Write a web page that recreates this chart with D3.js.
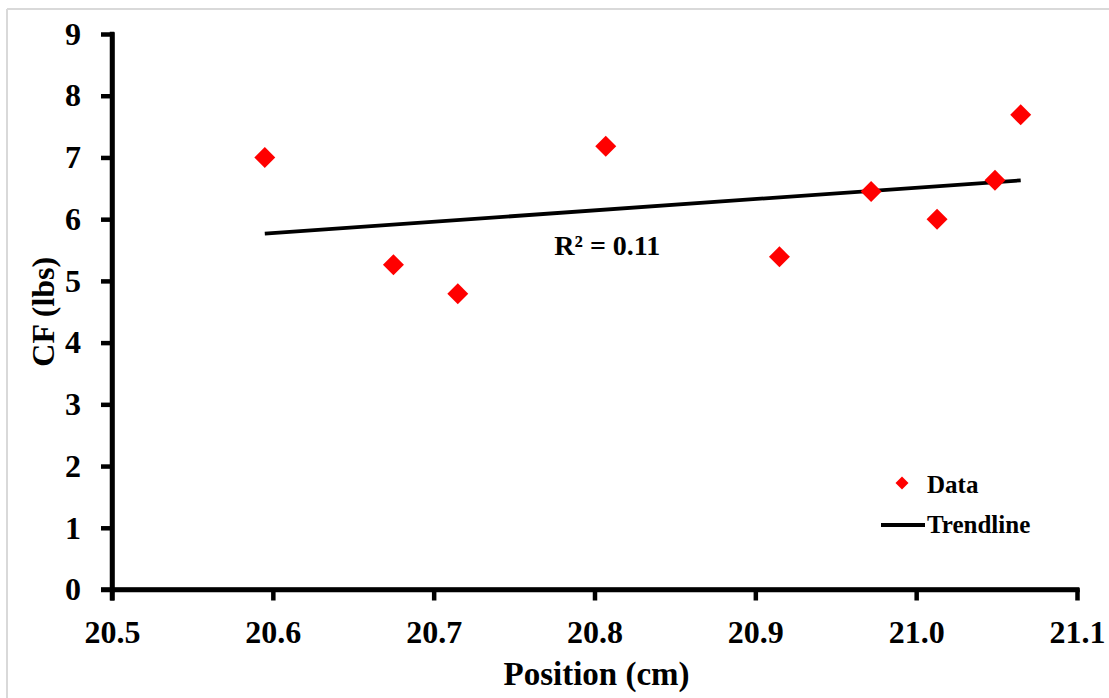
<!DOCTYPE html>
<html>
<head>
<meta charset="utf-8">
<script src="https://cdn.jsdelivr.net/npm/d3@7"></script>
<style>
  html, body { margin: 0; padding: 0; background: #fff; }
  svg { display: block; }
  text { font-family: "Liberation Serif", "Times New Roman", serif; font-weight: bold; fill: #000; }
</style>
</head>
<body>
<svg id="chart" width="1109" height="698"></svg>
<script>
// ---- data ----
const positions = [20.595, 20.675, 20.715, 20.807, 20.915, 20.972, 21.013, 21.049, 21.065];
const cfValues  = [7.00, 5.26, 4.79, 7.18, 5.39, 6.45, 6.00, 6.63, 7.69];
const xTicks = [20.5, 20.6, 20.7, 20.8, 20.9, 21.0, 21.1];
const yTicks = [0, 1, 2, 3, 4, 5, 6, 7, 8, 9];
const xTitle = "Position (cm)";
const yTitle = "CF (lbs)";
const legendLabels = ["Data", "Trendline"];
const r2Anchor = [20.775, 5.42];

const svg = d3.select("#chart");
const W = 1109, H = 698;

// frame
svg.append("line").attr("x1", 7).attr("y1", 9).attr("x2", W).attr("y2", 9)
  .attr("stroke", "#d9d9d9").attr("stroke-width", 2);
svg.append("line").attr("x1", 7).attr("y1", 9).attr("x2", 7).attr("y2", H)
  .attr("stroke", "#d9d9d9").attr("stroke-width", 2);

const x = d3.scaleLinear().domain([20.5, 21.1]).range([112, 1077]);
const y = d3.scaleLinear().domain([0, 9]).range([589.5, 34]);

// axes
const axW = 4.5;
const xAxis = svg.append("g").attr("transform", `translate(0,${y(0)})`)
  .call(d3.axisBottom(x).tickValues(xTicks).tickFormat(d3.format(".1f"))
    .tickSize(11).tickSizeOuter(0).tickPadding(20));
const yAxis = svg.append("g").attr("transform", `translate(${x(20.5)},0)`)
  .call(d3.axisLeft(y).tickValues(yTicks).tickFormat(d3.format("d"))
    .tickSize(11).tickSizeOuter(0).tickPadding(20));
[xAxis, yAxis].forEach(g => {
  g.selectAll("path.domain").attr("stroke", "#000").attr("stroke-width", axW).attr("stroke-linecap", "square");
  g.selectAll(".tick line").attr("stroke", "#000").attr("stroke-width", axW);
  g.selectAll(".tick text").style("font-family", '"Liberation Serif", serif')
    .style("font-weight", "bold").style("font-size", "32px").attr("fill", "#000");
});
// extend x axis line to left through y axis
svg.append("line").attr("x1", x(20.5) - 11).attr("x2", x(21.1) + axW / 2)
  .attr("y1", y(0)).attr("y2", y(0)).attr("stroke", "#000").attr("stroke-width", axW);
svg.append("line").attr("x1", x(20.5)).attr("x2", x(20.5))
  .attr("y1", y(9) - axW / 2).attr("y2", y(0) + 11).attr("stroke", "#000").attr("stroke-width", axW);

// regression
const n = positions.length;
const mx = d3.mean(positions), my = d3.mean(cfValues);
let sxy = 0, sxx = 0, syy = 0;
for (let i = 0; i < n; i++) {
  const dx = positions[i] - mx, dy = cfValues[i] - my;
  sxy += dx * dy; sxx += dx * dx; syy += dy * dy;
}
const slope = sxy / sxx, intercept = my - slope * mx;
const r2 = (sxy * sxy) / (sxx * syy);
const xMin = d3.min(positions), xMax = d3.max(positions);
const trend = [[xMin, intercept + slope * xMin], [xMax, intercept + slope * xMax]];

svg.append("path").datum(trend)
  .attr("d", d3.line().x(d => x(d[0])).y(d => y(d[1])))
  .attr("stroke", "#000").attr("stroke-width", 3.8).attr("fill", "none");

// points
const diamond = d3.symbol().type(d3.symbolSquare).size(220);
svg.append("g").selectAll("path").data(positions).join("path")
  .attr("d", diamond)
  .attr("transform", (d, i) => `translate(${x(d)},${y(cfValues[i])}) rotate(45)`)
  .attr("fill", "#ff0000");

// R² label
svg.append("text").attr("x", x(r2Anchor[0])).attr("y", y(r2Anchor[1]))
  .style("font-size", "28px").text("R² = " + r2.toFixed(2));

// legend
svg.append("path").attr("d", d3.symbol().type(d3.symbolSquare).size(85))
  .attr("transform", "translate(902,483) rotate(45)").attr("fill", "#ff0000");
svg.append("text").attr("x", 927).attr("y", 493).style("font-size", "25px").text(legendLabels[0]);
svg.append("line").attr("x1", 881).attr("x2", 925).attr("y1", 525).attr("y2", 525)
  .attr("stroke", "#000").attr("stroke-width", 3.8);
svg.append("text").attr("x", 927).attr("y", 533).style("font-size", "25px").text(legendLabels[1]);

// axis titles
svg.append("text").attr("x", (x(20.5) + x(21.1)) / 2 + 2).attr("y", 685)
  .attr("text-anchor", "middle").style("font-size", "33px").text(xTitle);
svg.append("text").attr("transform", `translate(54,${(y(0) + y(9)) / 2}) rotate(-90)`)
  .attr("text-anchor", "middle").style("font-size", "32px").text(yTitle);
</script>
</body>
</html>
